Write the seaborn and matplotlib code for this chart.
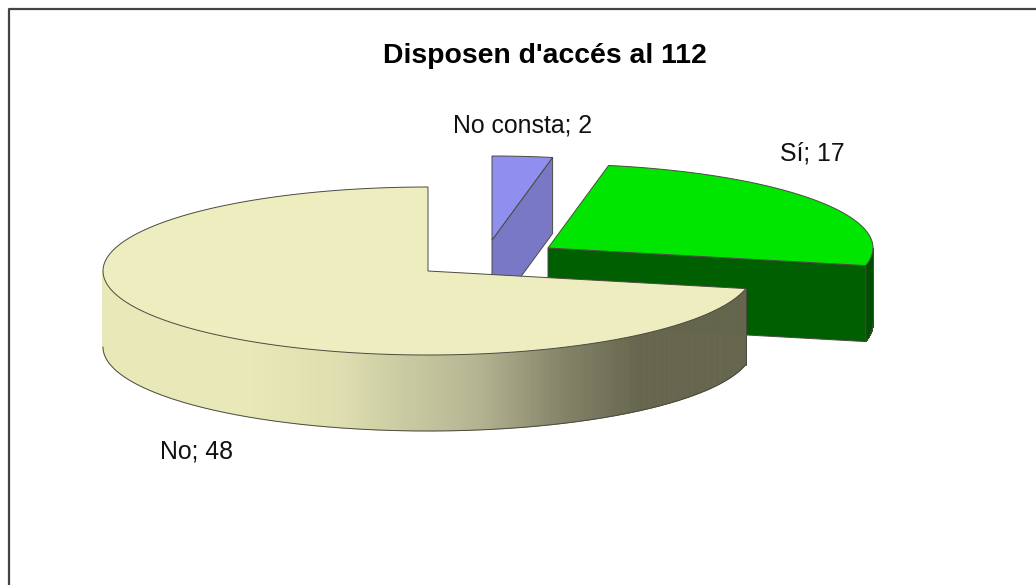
import numpy as np
import matplotlib
matplotlib.use("Agg")
import matplotlib.pyplot as plt
import seaborn as sns

title = "Disposen d'accés al 112"
categories = ["No", "Sí", "No consta"]
values = [48, 17, 2]

top_colors = {"No": "#EDEDC0", "No consta": "#8F8FF0", "Sí": "#00E600"}
face_colors = {"No consta": "#7878C6", "Sí": "#005F00"}
rim_dark = {"Sí": "#004F00"}
centers = {"No": (428, 271), "No consta": (492, 240), "Sí": (548, 248)}
label_pos = {"No": (197, 451), "No consta": (523, 126), "Sí": (812, 153)}

RX, RY, DEPTH = 325, 84, 76
START = 90.0
EDGE = "#4a4a40"

sns.set_theme(style="white")
plt.rcParams["font.family"] = ["Liberation Sans", "DejaVu Sans"]

fig, ax = plt.subplots(figsize=(10.36, 5.85), dpi=100)
ax.set_position([0, 0, 1, 1])
ax.set_xlim(0, 1036)
ax.set_ylim(585, 0)
ax.axis("off")

# Frame: only top and left are visible in the reference
ax.plot([9, 9, 1036], [585, 9, 9], color="#444444", lw=1.6, solid_capstyle="butt", zorder=1)


def pts(cx, cy, a0, a1, n=200, dy=0):
    t = np.radians(np.linspace(a0, a1, n))
    return cx + RX * np.cos(t), cy - RY * np.sin(t) + dy


# angle spans from the values, counter-clockwise starting at the top
total = sum(values)
spans = {}
a = START
for c, v in zip(categories, values):
    spans[c] = (a, a + 360.0 * v / total)
    a = spans[c][1]

# gradient stops for the big slice's rim, blended with seaborn
rim_stops = sns.blend_palette(["#E8E8B8", "#E8E8B8", "#DEDEB0", "#B4B492", "#85856A", "#66664E", "#66664E"], 7)
rim_x = [103, 250, 340, 480, 560, 640, 745]


def wall(c, a0, a1, gradient=False, color=None, z=2):
    cx, cy = centers[c]
    x, y = pts(cx, cy, a0, a1, 260)
    for i in range(len(x) - 1):
        if gradient:
            xm = (x[i] + x[i + 1]) / 2
            col = [np.interp(xm, rim_x, [s[k] for s in rim_stops]) for k in range(3)]
        else:
            col = color
        ax.fill([x[i], x[i + 1], x[i + 1], x[i]],
                [y[i], y[i + 1], y[i + 1] + DEPTH, y[i] + DEPTH],
                color=col, lw=0.6, zorder=z)
    ax.plot(x, y + DEPTH, color=EDGE, lw=0.7, zorder=z + 0.1)
    ax.plot([x[-1], x[-1]], [y[-1], y[-1] + DEPTH], color=EDGE, lw=0.7, zorder=z + 0.1)


def cut(c, ang, z):
    cx, cy = centers[c]
    x, y = pts(cx, cy, ang, ang, 1)
    ax.fill([cx, x[0], x[0], cx], [cy, y[0], y[0] + DEPTH, cy + DEPTH],
            facecolor=face_colors[c], edgecolor=EDGE, lw=0.7, zorder=z)


def top(c, z):
    cx, cy = centers[c]
    a0, a1 = spans[c]
    x, y = pts(cx, cy, a0, a1)
    ax.fill(np.r_[cx, x], np.r_[cy, y], facecolor=top_colors[c], edgecolor=EDGE, lw=0.7, zorder=z)


# Back to front: No consta, Sí, No
cut("No consta", spans["No consta"][0], 2)
top("No consta", 2.2)

# Sí's visible rim runs from its first edge to the rightmost point of the ellipse
si_a0 = spans["Sí"][0]
wall("Sí", si_a0, 360, color=rim_dark["Sí"], z=3)
cut("Sí", si_a0, 3.2)
top("Sí", 3.3)

wall("No", 180, spans["No"][1], gradient=True, z=4)
top("No", 4.3)

for c, v in zip(categories, values):
    ax.text(*label_pos[c], f"{c}; {v}", ha="center", va="center", fontsize=17.9, color="#111111", zorder=6)

ax.text(544.5, 56, title, ha="center", va="center", fontsize=20.4, fontweight="bold", color="black", zorder=6)

fig.savefig("out.png", dpi=100, facecolor="white")
